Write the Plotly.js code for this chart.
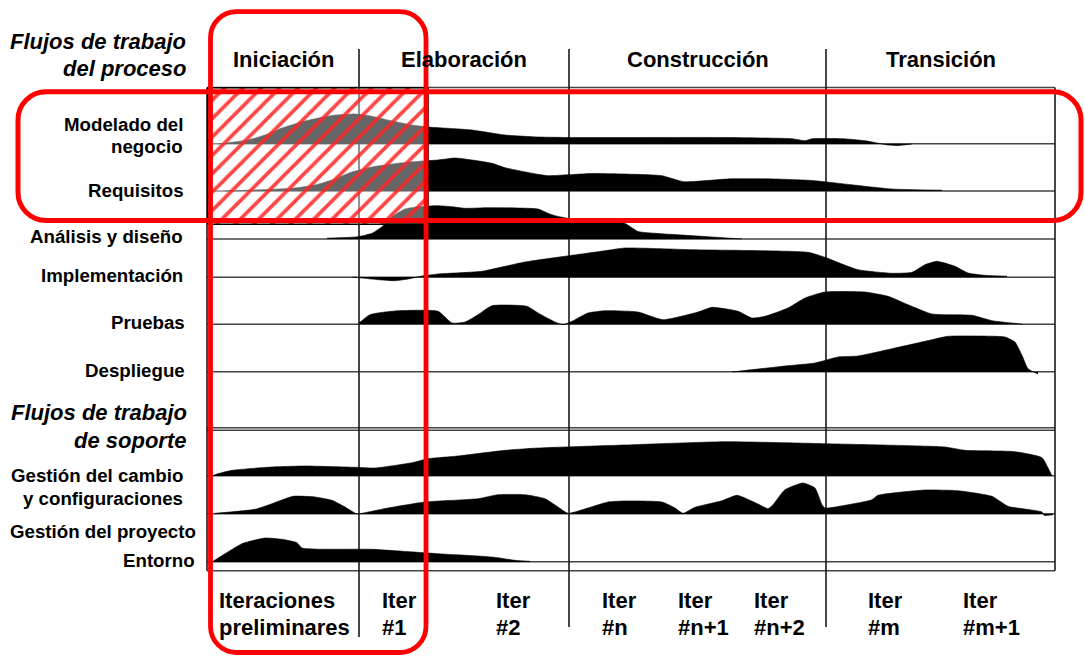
<!DOCTYPE html>
<html>
<head>
<meta charset="utf-8">
<script src="https://cdn.plot.ly/plotly-3.0.1.min.js"></script>
<style>
  html, body { margin: 0; padding: 0; background: #ffffff; }
  #chart { width: 1085px; height: 656px; }
</style>
</head>
<body>
<div id="chart"></div>
<script>
// ---------------- DATA ----------------
// Phases and their boundaries on the timeline (0 .. 848)
const phases = ["Iniciación", "Elaboración", "Construcción", "Transición"];
const phaseEdges = [0, 152, 362, 619, 848];

// Workflows (row order, top to bottom)
const processFlows = ["Modelado del negocio", "Requisitos", "Análisis y diseño", "Implementación", "Pruebas", "Despliegue"];
const supportFlows = ["Gestión del cambio y configuraciones", "Gestión del proyecto", "Entorno"];

// Iterations (bottom labels) and where each starts on the timeline
const iterLabels = [["Iteraciones", "preliminares"], ["Iter", "#1"], ["Iter", "#2"], ["Iter", "#n"],
                    ["Iter", "#n+1"], ["Iter", "#n+2"], ["Iter", "#m"], ["Iter", "#m+1"]];
const iterStarts = [11, 174, 288, 394, 470, 546, 660, 755];

// Effort profiles (timeline position, effort height)
const modeladoX = [11, 41, 58, 75, 98, 125, 148, 161, 185, 205, 221, 265, 298, 331, 365, 428, 518, 585, 598, 605, 635, 658, 681, 691, 705];
const modeladoH = [0, 4, 9, 16, 23, 28.5, 30, 28.5, 23, 19, 17, 14, 9, 7, 6.5, 6.5, 6.5, 5.3, 3.3, 5.3, 5.3, 3.3, -1, -1.5, 0];

const requisitosX = [18, 85, 108, 125, 145, 165, 191, 215, 231, 248, 265, 285, 298, 331, 341, 385, 428, 455, 477, 524, 568, 605, 635, 685, 735];
const requisitosH = [0, 2.7, 6, 11, 19, 24, 27.7, 30, 31, 33, 31, 27.7, 23.3, 16.7, 15.3, 17.5, 16.7, 15.3, 9.3, 12.2, 12, 10.5, 7.3, 2, 0.8];

const analisisX = [120, 151, 165, 175, 185, 198, 211, 231, 245, 258, 281, 331, 341, 348, 365, 393, 418, 431, 451, 501, 535];
const analisisH = [0.8, 2.3, 5.7, 12.3, 22.3, 30, 32.3, 33.3, 32.3, 30.7, 31.3, 30, 25.7, 23.3, 20, 18, 15.5, 7.5, 5.5, 2.3, 0];

const implementacionX = [145, 155, 171, 188, 201, 215, 231, 275, 298, 318, 365, 398, 418, 485, 601, 618, 635, 651, 685, 705, 718, 730, 748, 761, 778, 800];
const implementacionH = [0, -1, -2.7, -3.7, -2, 1, 3, 5.7, 10.7, 15, 21.7, 26.3, 29, 27.3, 24.7, 19.7, 13, 7.3, 3.7, 4.7, 12.3, 15.7, 10.7, 4, 1.7, 0.8];

const pruebasX = [152, 163, 178, 191, 231, 245, 258, 271, 285, 320, 331, 348, 356, 365, 381, 398, 431, 456, 491, 505, 531, 545, 558, 581, 598, 618, 658, 681, 701, 725, 765, 785, 815];
const pruebasH = [1, 9.3, 12, 13.3, 12.7, 1, 2, 9.3, 18.3, 17.7, 11, 2, -0.7, 2.7, 11, 13.3, 12, 4.3, 12, 16.7, 12.7, 6, 7.7, 16, 26, 32, 32, 27.7, 19.3, 10, 8.7, 3.3, 0];

const despliegueX = [525, 578, 608, 631, 651, 685, 718, 741, 768, 798, 808, 815, 821, 831];
const despliegueH = [0, 6, 9, 15, 16, 23.3, 30.7, 35.7, 36, 35, 30, 16.7, 3.3, -2];

const cambioX = [5, 10, 25, 65, 98, 148, 168, 205, 221, 251, 298, 331, 418, 518, 618, 738, 758, 808, 835, 841, 845];
const cambioH = [0, 2, 5.7, 9, 10, 8.7, 8, 13.3, 17.3, 20, 25.7, 28, 31, 34.3, 32.3, 29, 25.7, 24.3, 18.3, 8.3, 0];

const proyectoX = [8, 48, 65, 86, 108, 125, 138, 150, 155, 181, 218, 271, 291, 318, 338, 351, 361, 381, 401, 418, 455, 468, 476, 488, 515, 530, 551, 561, 566, 578, 596, 608, 615, 618, 645, 665, 671, 718, 751, 785, 801, 835, 837, 846];
const proyectoH = [0.7, 4.7, 10.3, 17.7, 17, 13.7, 7, 0, 0.7, 6, 12, 15.3, 19.3, 19.3, 15.3, 7, 0.7, 6, 12, 13, 12, 6, 0.7, 6.7, 13.3, 18.7, 10, 5.3, 9.3, 24.3, 31, 26, 9.3, 6, 10, 14.3, 18.7, 24, 23.3, 17.7, 7.7, 2, -1.3, -0.7];

const entornoX = [6, 18, 35, 58, 75, 90, 95, 165, 231, 285, 308, 323];
const entornoH = [0.7, 8.3, 18.3, 24, 22.7, 19.3, 14, 12.7, 8.3, 5, 1.7, 0.7];

// ---------------- LAYOUT / GEOMETRY ----------------
const W = 1085, H = 656;
const L = 207, T = 87, PW = 848, PH = 484;       // plot area in pixels
const X = p => (p - L) / PW;                       // pixel -> paper
const Y = p => (T + PH - p) / PH;
const FONT = "Liberation Sans, Arial, Helvetica, sans-serif";

const profiles = [
  [modeladoX, modeladoH], [requisitosX, requisitosH], [analisisX, analisisH],
  [implementacionX, implementacionH], [pruebasX, pruebasH], [despliegueX, despliegueH],
  [cambioX, cambioH], [proyectoX, proyectoH], [entornoX, entornoH]
];
const rowBase = [427, 380, 332, 294, 247, 199, 95, 57, 9];   // baseline of each row (y units)

const traces = [];
profiles.forEach(([xs, hs], i) => {
  const b = rowBase[i];
  traces.push({
    type: "scatter", mode: "lines", x: [xs[0], xs[xs.length - 1]], y: [b, b],
    line: { width: 0, color: "rgba(0,0,0,0)" }, hoverinfo: "skip", showlegend: false
  });
  traces.push({
    type: "scatter", mode: "lines", x: xs, y: hs.map(h => b + h),
    fill: "tonexty", fillcolor: "#000000",
    line: { width: 0.6, color: "#000000", shape: "spline", smoothing: 0.5 },
    hoverinfo: "skip", showlegend: false
  });
});

// Hatched highlight box (Iniciación + Iter #1, first two process workflows)
const hx0 = 0.8, hx1 = 221, hy0 = 571 - 224.3, hy1 = 571 - 87.7;
traces.push({
  type: "scatter", mode: "lines",
  x: [hx0, hx1, hx1, hx0, hx0], y: [hy0, hy0, hy1, hy1, hy0],
  fill: "toself", fillcolor: "rgba(255,255,255,0.4)",
  fillpattern: { shape: "/", size: 13, solidity: 0.28, fgcolor: "#ff2424", bgcolor: "rgba(255,255,255,0.4)", fgopacity: 0.85 },
  line: { color: "#000000", width: 1.6 },
  hoverinfo: "skip", showlegend: false
});

const shapes = [];
// horizontal grid lines (pixel y)
const hLines = [87.5, 143.8, 191, 239, 277.3, 324.3, 371.7, 427.7, 430.3, 475.7, 513.7, 561.7, 570.7];
hLines.forEach(p => shapes.push({
  type: "line", xref: "paper", yref: "paper", x0: 0, x1: 1, y0: Y(p), y1: Y(p),
  line: { color: "#444444", width: 1.5 }, layer: "below"
}));
// borders
[0, PW].forEach(e => shapes.push({
  type: "line", xref: "paper", yref: "paper", x0: e / PW, x1: e / PW, y0: Y(87.5), y1: Y(570.7),
  line: { color: "#1a1a1a", width: 1.6 }, layer: "below"
}));
// phase dividers
phaseEdges.slice(1, -1).forEach((e, i) => shapes.push({
  type: "line", xref: "paper", yref: "paper", x0: e / PW, x1: e / PW, y0: Y(49), y1: Y(i === 0 ? 637 : 627),
  line: { color: "#1a1a1a", width: 1.6 }, layer: "below"
}));

// red rounded rectangles
function roundRect(x0, y0, x1, y1, r) {
  const k = 0.5523 * r;
  const P = (x, y) => X(x) + "," + Y(y);
  return "M" + P(x0 + r, y0) + " L" + P(x1 - r, y0) +
    " C" + P(x1 - r + k, y0) + " " + P(x1, y0 + r - k) + " " + P(x1, y0 + r) +
    " L" + P(x1, y1 - r) +
    " C" + P(x1, y1 - r + k) + " " + P(x1 - r + k, y1) + " " + P(x1 - r, y1) +
    " L" + P(x0 + r, y1) +
    " C" + P(x0 + r - k, y1) + " " + P(x0, y1 - r + k) + " " + P(x0, y1 - r) +
    " L" + P(x0, y0 + r) +
    " C" + P(x0, y0 + r - k) + " " + P(x0 + r - k, y0) + " " + P(x0 + r, y0) + " Z";
}
shapes.push({ type: "path", xref: "paper", yref: "paper", path: roundRect(210.5, 11.7, 426, 652.5, 26),
  line: { color: "#ff0000", width: 4.8 }, layer: "above" });
shapes.push({ type: "path", xref: "paper", yref: "paper", path: roundRect(18, 91.7, 1081, 220.5, 28),
  line: { color: "#ff0000", width: 5 }, layer: "above" });

// annotations
const annotations = [];
function ann(text, px, py, size, anchor, italic) {
  annotations.push({
    text: text, xref: "paper", yref: "paper", x: X(px), y: Y(py),
    xanchor: anchor, yanchor: "middle", showarrow: false, align: anchor,
    font: { family: FONT, size: size, color: "#000000", weight: 700, style: italic ? "italic" : "normal" }
  });
}
// phase headers
phases.forEach((p, i) => ann(p, L + (phaseEdges[i] + phaseEdges[i + 1]) / 2, 60, 22, "center", false));
// section titles
ann("Flujos de trabajo", 188, 41.7, 22, "right", true);
ann("del proceso", 188, 68.3, 22, "right", true);
ann("Flujos de trabajo", 189, 412.7, 22, "right", true);
ann("de soporte", 188, 440, 22, "right", true);
// row labels
ann("Modelado del", 185, 124.3, 18.7, "right");
ann("negocio", 185, 146.7, 18.7, "right");
ann(processFlows[1], 185.5, 190.7, 18.7, "right");
ann(processFlows[2], 185, 237, 18.7, "right");
ann(processFlows[3], 185, 275.7, 18.7, "right");
ann(processFlows[4], 186.5, 322, 18.7, "right");
ann(processFlows[5], 186.5, 370, 18.7, "right");
ann("Gestión del cambio", 185, 475, 18.7, "right");
ann("y configuraciones", 185, 498, 18.7, "right");
ann(supportFlows[1], 197.5, 531.7, 18.7, "right");
ann(supportFlows[2], 196.5, 560, 18.7, "right");
// iteration labels
iterLabels.forEach((lines, i) => {
  ann(lines[0], L + iterStarts[i] - 1.5, 600, 22, "left");
  ann(lines[1], L + iterStarts[i] - 1.5, 627.3, 22, "left");
});

const layout = {
  width: W, height: H,
  margin: { l: L, r: W - L - PW, t: T, b: H - T - PH, pad: 0 },
  paper_bgcolor: "#ffffff", plot_bgcolor: "#ffffff",
  xaxis: { range: [0, PW], visible: false, fixedrange: true },
  yaxis: { range: [0, PH], visible: false, fixedrange: true },
  showlegend: false, shapes: shapes, annotations: annotations
};

Plotly.newPlot("chart", traces, layout, { displayModeBar: false, staticPlot: true });
</script>
</body>
</html>
